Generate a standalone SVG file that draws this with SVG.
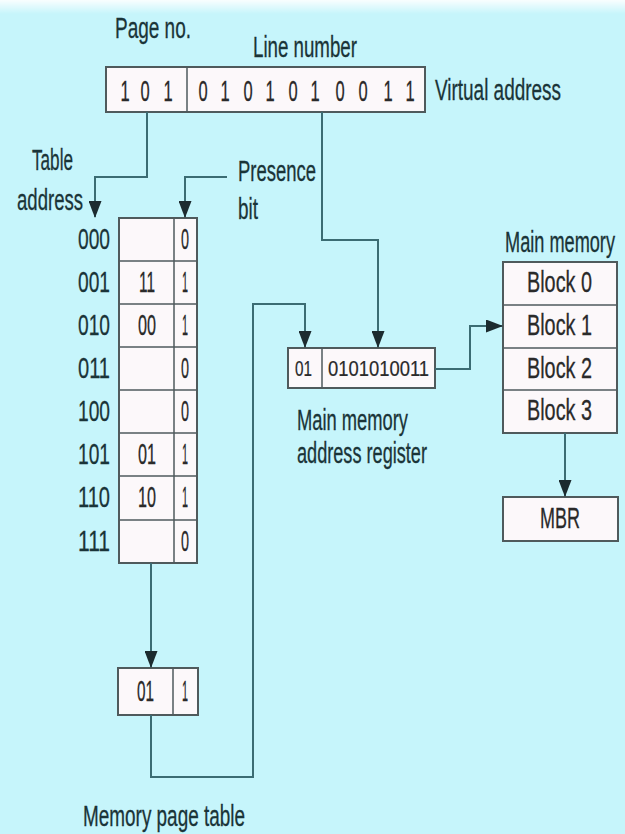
<svg xmlns="http://www.w3.org/2000/svg" width="625" height="834" viewBox="0 0 625 834">
  <defs>
    <marker id="ah" markerUnits="userSpaceOnUse" markerWidth="17" markerHeight="13" refX="16" refY="6.5" orient="auto" viewBox="0 0 17 13">
      <path d="M0,0 L17,6.5 L0,13 Z" fill="#1c2b2f"/>
    </marker>
    <linearGradient id="topfade" x1="0" y1="0" x2="0" y2="1">
      <stop offset="0" stop-color="#ffffff" stop-opacity="0.9"/>
      <stop offset="1" stop-color="#ffffff" stop-opacity="0"/>
    </linearGradient>
  </defs>
  <style>
    .t { font-family: "Liberation Sans Narrow", "Liberation Sans", Arial, sans-serif; font-size: 30px; fill: #1a3438; stroke: #1a3438; stroke-width: 0.3px; }
    .d { font-family: "Liberation Sans Narrow", "Liberation Sans", Arial, sans-serif; font-size: 30px; fill: #2a2a2a; stroke: #2a2a2a; stroke-width: 0.3px; }
    .s { font-family: "Liberation Sans Narrow", "Liberation Sans", Arial, sans-serif; font-size: 22px; fill: #2a2a2a; stroke: #2a2a2a; stroke-width: 0.2px; }
    .box { fill: #fcf8fa; stroke: #4f5a5c; stroke-width: 2; }
    .ln { fill: none; stroke: #4f5a5c; stroke-width: 1.5; }
    .c { fill: none; stroke: #3b6c73; stroke-width: 2; }
  </style>
  <rect x="0" y="0" width="625" height="834" fill="#c6f5fb"/>
  <rect x="0" y="0" width="625" height="14" fill="url(#topfade)"/>

  <g id="virtual-address">
    <text class="t" x="115" y="38" textLength="76" lengthAdjust="spacingAndGlyphs">Page no.</text>
    <text class="t" x="253" y="57" textLength="104" lengthAdjust="spacingAndGlyphs">Line number</text>
    <rect class="box" x="106" y="67" width="319" height="45"/>
    <line class="ln" x1="187" y1="67" x2="187" y2="112"/>
    <text class="d" transform="scale(0.55 1)" y="101" text-anchor="middle" x="227.3 263.6 305.5 369.1 409.1 450.9 490.9 532.7 572.7 618.2 660 705.5 745.5">1010101010011</text>
    <text class="t" x="435" y="100" textLength="126" lengthAdjust="spacingAndGlyphs">Virtual address</text>
  </g>

  <g id="page-table">
    <text class="t" x="32" y="170" textLength="41" lengthAdjust="spacingAndGlyphs">Table</text>
    <text class="t" x="17" y="210" textLength="66" lengthAdjust="spacingAndGlyphs">address</text>
    <text class="t" x="238" y="181" textLength="78" lengthAdjust="spacingAndGlyphs">Presence</text>
    <text class="t" x="238" y="219" textLength="20" lengthAdjust="spacingAndGlyphs">bit</text>
    <rect class="box" x="119" y="218" width="78" height="345"/>
    <line class="ln" x1="174" y1="218" x2="174" y2="563"/>
    <line class="ln" x1="119" y1="261" x2="197" y2="261"/>
    <line class="ln" x1="119" y1="304" x2="197" y2="304"/>
    <line class="ln" x1="119" y1="347" x2="197" y2="347"/>
    <line class="ln" x1="119" y1="390" x2="197" y2="390"/>
    <line class="ln" x1="119" y1="433" x2="197" y2="433"/>
    <line class="ln" x1="119" y1="476" x2="197" y2="476"/>
    <line class="ln" x1="119" y1="520" x2="197" y2="520"/>
    <text class="t" x="78" y="249" textLength="32" lengthAdjust="spacingAndGlyphs">000</text>
    <text class="t" x="78" y="292" textLength="32" lengthAdjust="spacingAndGlyphs">001</text>
    <text class="t" x="78" y="335" textLength="32" lengthAdjust="spacingAndGlyphs">010</text>
    <text class="t" x="78" y="378" textLength="32" lengthAdjust="spacingAndGlyphs">011</text>
    <text class="t" x="78" y="421" textLength="32" lengthAdjust="spacingAndGlyphs">100</text>
    <text class="t" x="78" y="464" textLength="32" lengthAdjust="spacingAndGlyphs">101</text>
    <text class="t" x="78" y="507" textLength="32" lengthAdjust="spacingAndGlyphs">110</text>
    <text class="t" x="78" y="551" textLength="32" lengthAdjust="spacingAndGlyphs">111</text>
    <text class="d" x="139" y="292" textLength="16" lengthAdjust="spacingAndGlyphs">11</text>
    <text class="d" x="138" y="335" textLength="18" lengthAdjust="spacingAndGlyphs">00</text>
    <text class="d" x="138" y="464" textLength="18" lengthAdjust="spacingAndGlyphs">01</text>
    <text class="d" x="138" y="507" textLength="18" lengthAdjust="spacingAndGlyphs">10</text>
    <text class="d" x="181" y="249" textLength="8" lengthAdjust="spacingAndGlyphs">0</text>
    <text class="d" x="182" y="292" textLength="6" lengthAdjust="spacingAndGlyphs">1</text>
    <text class="d" x="182" y="335" textLength="6" lengthAdjust="spacingAndGlyphs">1</text>
    <text class="d" x="181" y="378" textLength="8" lengthAdjust="spacingAndGlyphs">0</text>
    <text class="d" x="181" y="421" textLength="8" lengthAdjust="spacingAndGlyphs">0</text>
    <text class="d" x="182" y="464" textLength="6" lengthAdjust="spacingAndGlyphs">1</text>
    <text class="d" x="182" y="507" textLength="6" lengthAdjust="spacingAndGlyphs">1</text>
    <text class="d" x="181" y="551" textLength="8" lengthAdjust="spacingAndGlyphs">0</text>
  </g>

  <g id="selected-entry">
    <rect class="box" x="118" y="668" width="80" height="47"/>
    <line class="ln" x1="173" y1="668" x2="173" y2="715"/>
    <text class="d" x="137" y="701" textLength="17" lengthAdjust="spacingAndGlyphs">01</text>
    <text class="d" x="182" y="701" textLength="6" lengthAdjust="spacingAndGlyphs">1</text>
    <text class="t" x="83" y="826" textLength="162" lengthAdjust="spacingAndGlyphs">Memory page table</text>
  </g>

  <g id="address-register">
    <rect class="box" x="288" y="348" width="147" height="40"/>
    <line class="ln" x1="322" y1="348" x2="322" y2="388"/>
    <text class="s" x="295" y="376" textLength="17" lengthAdjust="spacingAndGlyphs">01</text>
    <text class="s" x="328" y="376" textLength="101" lengthAdjust="spacingAndGlyphs">0101010011</text>
    <text class="t" x="297" y="430" textLength="111" lengthAdjust="spacingAndGlyphs">Main memory</text>
    <text class="t" x="297" y="463" textLength="130" lengthAdjust="spacingAndGlyphs">address register</text>
  </g>

  <g id="main-memory">
    <text class="t" x="505" y="252" textLength="110" lengthAdjust="spacingAndGlyphs">Main memory</text>
    <rect class="box" x="503" y="262" width="114" height="171"/>
    <line class="ln" x1="503" y1="305" x2="617" y2="305"/>
    <line class="ln" x1="503" y1="348" x2="617" y2="348"/>
    <line class="ln" x1="503" y1="390" x2="617" y2="390"/>
    <text class="d" x="527" y="292" textLength="65" lengthAdjust="spacingAndGlyphs">Block 0</text>
    <text class="d" x="527" y="335" textLength="65" lengthAdjust="spacingAndGlyphs">Block 1</text>
    <text class="d" x="527" y="378" textLength="65" lengthAdjust="spacingAndGlyphs">Block 2</text>
    <text class="d" x="527" y="420" textLength="65" lengthAdjust="spacingAndGlyphs">Block 3</text>
  </g>

  <g id="mbr">
    <rect class="box" x="503" y="497" width="115" height="44"/>
    <text class="d" x="540" y="528" textLength="40" lengthAdjust="spacingAndGlyphs">MBR</text>
  </g>

  <g id="connectors">
    <polyline class="c" points="147,112 147,177 95,177 95,217" marker-end="url(#ah)"/>
    <polyline class="c" points="227,177 185,177 185,217" marker-end="url(#ah)"/>
    <polyline class="c" points="322,112 322,240 378,240 378,347" marker-end="url(#ah)"/>
    <polyline class="c" points="151,563 151,667" marker-end="url(#ah)"/>
    <polyline class="c" points="151,715 151,777 253,777 253,304 305,304 305,347" marker-end="url(#ah)"/>
    <polyline class="c" points="435,369 470,369 470,326 502,326" marker-end="url(#ah)"/>
    <polyline class="c" points="565,433 565,496" marker-end="url(#ah)"/>
  </g>
</svg>
